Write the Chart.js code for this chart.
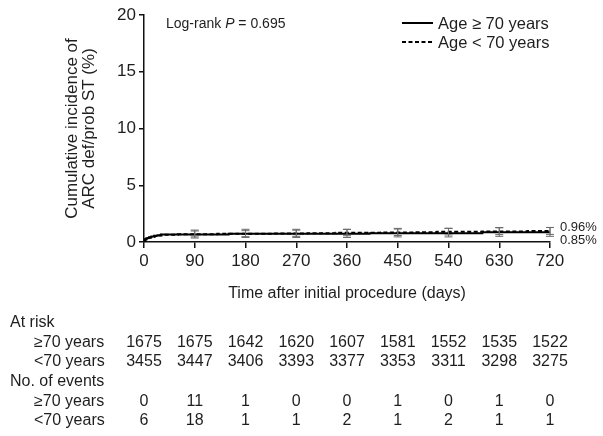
<!DOCTYPE html>
<html>
<head>
<meta charset="utf-8">
<script src="https://cdn.jsdelivr.net/npm/chart.js@4"></script>
<style>
  html, body { margin: 0; padding: 0; background: #fff; }
  #wrap { width: 603px; height: 436px; }
</style>
</head>
<body>
<div id="wrap"><canvas id="kmChart" width="603" height="436"></canvas></div>
<script>
// Time points shown on the axis and in the risk table
const days = [0, 90, 180, 270, 360, 450, 540, 630, 720];

// Numbers at risk / events per interval
const riskOld = [1675, 1675, 1642, 1620, 1607, 1581, 1552, 1535, 1522];
const riskYoung = [3455, 3447, 3406, 3393, 3377, 3353, 3311, 3298, 3275];
const eventsOld = [0, 11, 1, 0, 0, 1, 0, 1, 0];
const eventsYoung = [6, 18, 1, 1, 2, 1, 2, 1, 1];

// Step curves (day, cumulative incidence %)
const oldX = [0, 1, 2, 4, 6, 9, 13, 18, 24, 30, 150, 400, 600, 720];
const oldY = [0, 0.12, 0.24, 0.30, 0.36, 0.42, 0.48, 0.54, 0.60, 0.66, 0.72, 0.78, 0.85, 0.85];
const youngX = [0, 2, 4, 7, 10, 14, 19, 25, 31, 60, 130, 230, 290, 340, 420, 480, 520, 600, 680, 720];
const youngY = [0.17, 0.23, 0.29, 0.35, 0.40, 0.46, 0.52, 0.58, 0.64, 0.69, 0.72, 0.75, 0.78, 0.81, 0.84, 0.87, 0.90, 0.93, 0.96, 0.96];

// 95% confidence intervals at the table time points
const ciDays = [90, 180, 270, 360, 450, 540, 630, 720];
const oldMid = [0.66, 0.72, 0.72, 0.72, 0.78, 0.78, 0.85, 0.85];
const oldLo = [0.35, 0.40, 0.40, 0.40, 0.45, 0.45, 0.50, 0.50];
const oldHi = [1.05, 1.12, 1.12, 1.12, 1.20, 1.20, 1.28, 1.28];
const youngMid = [0.69, 0.72, 0.75, 0.81, 0.84, 0.90, 0.93, 0.96];
const youngLo = [0.45, 0.47, 0.50, 0.55, 0.57, 0.62, 0.65, 0.67];
const youngHi = [0.97, 1.00, 1.04, 1.11, 1.14, 1.21, 1.25, 1.28];

const endLabels = ['0.96%', '0.85%'];
const seriesNames = ['Age \u2265 70 years', 'Age < 70 years'];
const rowNames = ['\u226570 years', '<70 years'];

const FONT = "'Liberation Sans', Arial, Helvetica, sans-serif";
const INK = '#1e1e1e';

Chart.defaults.font.family = FONT;
Chart.defaults.color = INK;

// Draws error bars, end labels, legend, log-rank text and the risk table
const extrasPlugin = {
    id: 'kmExtras',
    afterDatasetsDraw(chart) {
        const ctx = chart.ctx;
        const xs = chart.scales.x;
        const ys = chart.scales.y;

        // Error bars
        ctx.save();
        ctx.strokeStyle = '#6a6a6a';
        ctx.lineWidth = 1;
        const drawBar = (x, lo, hi, mid) => {
            const px = xs.getPixelForValue(x);
            const pl = ys.getPixelForValue(lo);
            const ph = ys.getPixelForValue(hi);
            ctx.beginPath();
            ctx.moveTo(px, pl); ctx.lineTo(px, ph);
            ctx.moveTo(px - 4, pl); ctx.lineTo(px + 4, pl);
            ctx.moveTo(px - 4, ph); ctx.lineTo(px + 4, ph);
            ctx.stroke();
        };
        ciDays.forEach((d, i) => {
            drawBar(d, oldLo[i], oldHi[i], oldMid[i]);
            drawBar(d, youngLo[i], youngHi[i], youngMid[i]);
        });
        ctx.restore();

        // End labels
        ctx.save();
        ctx.fillStyle = INK;
        ctx.font = '13px ' + FONT;
        ctx.textAlign = 'left';
        ctx.textBaseline = 'middle';
        const ex = xs.getPixelForValue(720) + 10;
        ctx.fillText(endLabels[0], ex, ys.getPixelForValue(youngY[youngY.length - 1]) - 4);
        ctx.fillText(endLabels[1], ex, ys.getPixelForValue(oldY[oldY.length - 1]) + 8);
        ctx.restore();
    },
    afterDraw(chart) {
        const ctx = chart.ctx;
        const xs = chart.scales.x;

        // Legend
        ctx.save();
        ctx.font = '16.5px ' + FONT;
        ctx.fillStyle = INK;
        ctx.textBaseline = 'middle';
        chart.data.datasets.forEach((ds, i) => {
            const y = 23 + i * 19;
            ctx.strokeStyle = '#000';
            ctx.lineWidth = 2;
            ctx.setLineDash(ds.borderDash || []);
            ctx.beginPath();
            ctx.moveTo(402, y); ctx.lineTo(433, y);
            ctx.stroke();
            ctx.setLineDash([]);
            ctx.fillText(ds.label, 438, y + 1);
        });

        // Log-rank text
        ctx.font = '14px ' + FONT;
        let lx = 166;
        const ly = 24;
        ctx.fillText('Log-rank ', lx, ly);
        lx += ctx.measureText('Log-rank ').width;
        ctx.font = 'italic 14px ' + FONT;
        ctx.fillText('P', lx, ly);
        lx += ctx.measureText('P').width;
        ctx.font = '14px ' + FONT;
        ctx.fillText(' = 0.695', lx, ly);

        // Risk table
        ctx.font = '16px ' + FONT;
        ctx.textAlign = 'left';
        ctx.fillText('At risk', 10, 323);
        ctx.fillText(rowNames[0], 34, 343);
        ctx.fillText(rowNames[1], 34, 362);
        ctx.fillText('No. of events', 10, 382);
        ctx.fillText(rowNames[0], 34, 402);
        ctx.fillText(rowNames[1], 34, 421);
        ctx.textAlign = 'center';
        days.forEach((d, i) => {
            const px = xs.getPixelForValue(d);
            ctx.fillText(String(riskOld[i]), px, 343);
            ctx.fillText(String(riskYoung[i]), px, 362);
            ctx.fillText(String(eventsOld[i]), px, 402);
            ctx.fillText(String(eventsYoung[i]), px, 421);
        });
        ctx.restore();
    }
};

const kmCtx = document.getElementById('kmChart').getContext('2d');
const kmChart = new Chart(kmCtx, {
    type: 'line',
    data: {
        datasets: [{
            label: seriesNames[0],
            data: oldX.map((x, i) => ({ x: x, y: oldY[i] })),
            borderColor: '#000',
            borderWidth: 2,
            stepped: true,
            pointRadius: 0,
            fill: false
        }, {
            label: seriesNames[1],
            data: youngX.map((x, i) => ({ x: x, y: youngY[i] })),
            borderColor: '#000',
            borderWidth: 2,
            borderDash: [4, 2.5],
            stepped: true,
            pointRadius: 0,
            fill: false
        }]
    },
    options: {
        responsive: false,
        animation: false,
        layout: { padding: { left: 0, top: 15, right: 53, bottom: 0 } },
        plugins: {
            legend: { display: false },
            tooltip: { enabled: false }
        },
        scales: {
            x: {
                type: 'linear',
                min: 0,
                max: 720,
                afterBuildTicks: s => { s.ticks = days.map(v => ({ value: v })); },
                ticks: { font: { size: 17 }, color: INK, padding: 3, maxRotation: 0, autoSkip: false },
                grid: { drawOnChartArea: false, tickLength: 6, color: '#111', lineWidth: 1.5 },
                border: { color: '#111', width: 1.5 },
                title: {
                    display: true,
                    text: 'Time after initial procedure (days)',
                    font: { size: 16 },
                    color: INK,
                    padding: { top: 0, bottom: 133 }
                },
                afterFit: s => { s.height = 194; }
            },
            y: {
                min: 0,
                max: 20,
                ticks: { stepSize: 5, font: { size: 17 }, color: INK, padding: 3 },
                grid: { drawOnChartArea: false, tickLength: 5, color: '#111', lineWidth: 1.5 },
                border: { color: '#111', width: 1.5 },
                title: {
                    display: true,
                    text: ['Cumulative incidence of', 'ARC def/prob ST (%)'],
                    font: { size: 17, lineHeight: 1.0 },
                    color: INK,
                    padding: { top: 64, bottom: 0 }
                },
                afterFit: s => { s.width = 144; }
            }
        }
    },
    plugins: [extrasPlugin]
});
</script>
</body>
</html>
